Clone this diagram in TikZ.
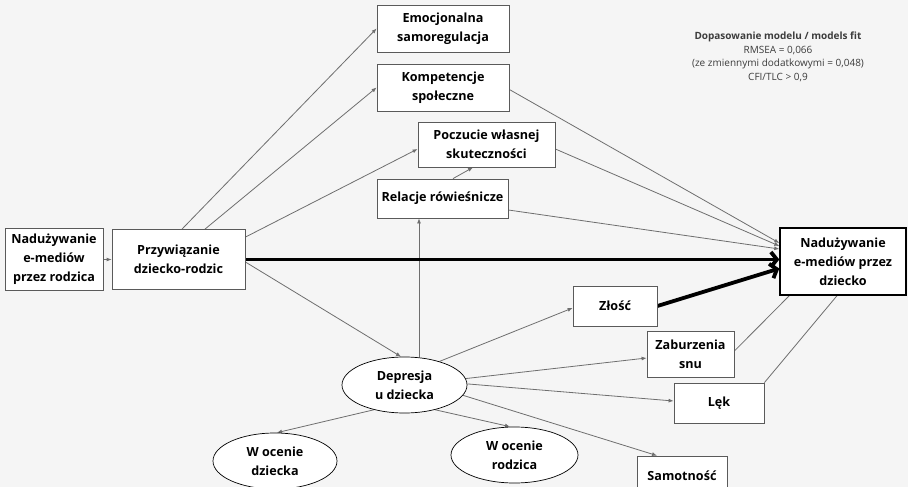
\documentclass[tikz,border=0pt]{standalone}
\usepackage{fontspec}
\setmainfont{Open Sans}
\usetikzlibrary{arrows.meta,shapes.geometric}
\pgfdeclarelayer{back}
\pgfdeclarelayer{edges}
\pgfsetlayers{back,edges,main}
\definecolor{bgc}{RGB}{245,245,245}
\definecolor{boxline}{RGB}{90,90,90}
\definecolor{link}{RGB}{110,110,110}
\definecolor{fittext}{RGB}{60,60,60}
\tikzset{
  box/.style={draw=boxline, fill=white, line width=0.8pt, inner sep=0pt, align=center,
    font=\fontsize{12.6}{19}\selectfont\bfseries},
  oval/.style={ellipse, draw=black, fill=white, line width=0.7pt, inner sep=0pt, align=center,
    font=\fontsize{12.6}{19}\selectfont\bfseries},
  link/.style={draw=link, line width=0.8pt},
  arr/.style={link, -{Latex[length=5pt,width=4pt]}},
  strong/.style={draw=black, line width=3.8pt, -{Straight Barb[length=6pt,width=15pt]}},
}
\begin{document}
\begin{tikzpicture}[x=1pt, y=-1pt]
\begin{pgfonlayer}{back}
  \fill[bgc] (0,0) rectangle (908,487);
\end{pgfonlayer}
\useasboundingbox (0,0) rectangle (908,487);
\clip (0,0) rectangle (908,487);

% predictors and mediators
\node[box, minimum width=98pt, minimum height=62pt] (A) at (54,259.5) {Nadużywanie\\e-mediów\\przez rodzica};
\node[box, minimum width=133pt, minimum height=60pt] (B) at (178.5,259.5) {Przywiązanie\\dziecko-rodzic};
\node[box, minimum width=132pt, minimum height=47pt] (C) at (443,28.5) {Emocjonalna\\samoregulacja};
\node[box, minimum width=132pt, minimum height=47pt] (D) at (443,87.5) {Kompetencje\\społeczne};
\node[box, minimum width=137pt, minimum height=45pt] (E) at (486.5,144.5) {Poczucie własnej\\skuteczności};
\node[box, minimum width=131pt, minimum height=39pt] (F) at (442.5,198.5) {Relacje rówieśnicze};
\node[box, draw=black, line width=1.4pt, minimum width=126pt, minimum height=67pt] (G) at (843,261.5) {Nadużywanie\\e-mediów przez\\dziecko};
\node[box, minimum width=84pt, minimum height=40pt] (H) at (615,306) {Złość};
\node[box, minimum width=87pt, minimum height=46pt] (I) at (690.5,354) {Zaburzenia\\snu};
\node[box, minimum width=90pt, minimum height=40pt] (J) at (719,403) {Lęk};
\node[box, minimum width=90pt, minimum height=40pt] (K) at (682,476) {Samotność};

% depression and its indicators
\node[oval, minimum width=125pt, minimum height=56pt] (L) at (404.5,385) {Depresja\\u dziecka};
\node[oval, minimum width=124pt, minimum height=56pt] (M) at (275,461) {W ocenie\\dziecka};
\node[oval, minimum width=127pt, minimum height=56pt] (N) at (514.5,455) {W ocenie\\rodzica};

% model fit
\node[align=center, text=fittext, font=\fontsize{10}{13.5}\selectfont] (fit) at (778,57)
  {\textbf{Dopasowanie modelu / models fit}\\RMSEA = 0,066\\(ze zmiennymi dodatkowymi = 0,048)\\CFI/TLC > 0,9};

\begin{pgfonlayer}{edges}
  \draw[arr] (A) -- (B);
  \draw[arr] ([xshift=3.5pt]B.north) -- (C.west);
  \draw[arr] ([xshift=26.5pt]B.north) -- (D.west);
  \draw[arr] ([yshift=-8pt]B.north east) -- ([yshift=-4.5pt]E.west);
  \draw[arr] ([xshift=10.5pt]F.north) -- ([xshift=-13.5pt]E.south);
  \draw[arr] ([xshift=14.5pt]L.north) -- ([xshift=14.5pt]L.north |- F.south);
  \draw[arr] ([yshift=-2.5pt]B.east) -- ([xshift=-3.5pt]L.north);

  \draw[arr] ([yshift=-2pt]D.east) -- ([yshift=18.5pt]G.west);
  \draw[arr] ([yshift=-4.5pt]E.east) -- ([yshift=15.5pt]G.west);
  \draw[arr] ([yshift=-11.5pt]F.east) -- ([yshift=12.5pt]G.west);
  \draw[link] ([yshift=3pt]I.east) -- ([xshift=10pt]G.south west);
  \draw[link] (J.north east) -- ([xshift=-6pt]G.south);

  \draw[arr] (L.34) -- ([yshift=-2pt]H.west);
  \draw[arr] (L.6) -- ([yshift=-4pt]I.west);
  \draw[arr] (L.1) -- ([yshift=2pt]J.west);
  \draw[arr] (L.-10) -- ([xshift=-25pt]K.north);
  \draw[arr] (L.219) -- ([xshift=2pt]M.north);
  \draw[arr] (L.321) -- ([xshift=-4.5pt]N.north);

  \draw[strong] (B.east) -- (B.east -| G.west);
  \draw[strong] (H.east) -- ([yshift=-7pt]G.west);
\end{pgfonlayer}
\end{tikzpicture}
\end{document}
